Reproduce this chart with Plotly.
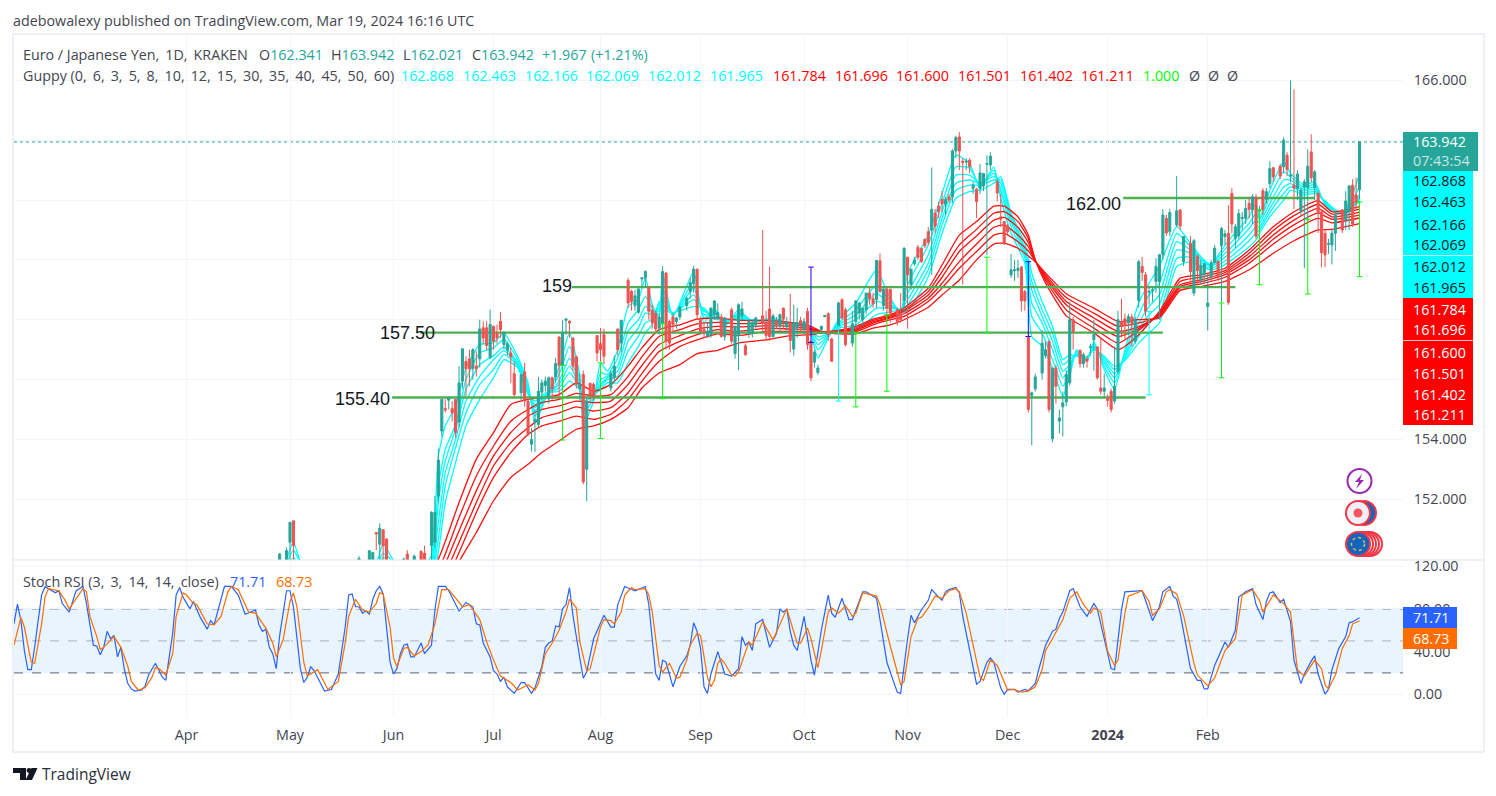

# %% EUR/JPY daily chart with Guppy and Stoch RSI
import plotly.graph_objects as go

W, H = 1496, 796

# %% price data, one entry per bar that shows in the pane
bars = [77,79,80,81,100,103,104,105,106,107,
        108,113,114,116,118,119,121,122,123,124,
        125,126,127,128,129,130,131,132,133,134,
        135,136,137,138,139,140,141,142,143,144,
        145,147,148,149,150,151,152,153,154,155,
        156,157,158,159,160,161,162,163,164,165,
        166,167,168,169,170,171,173,174,175,176,
        178,179,180,181,182,183,184,185,186,187,
        188,189,190,191,192,193,195,196,197,198,
        199,200,201,202,203,204,205,206,208,209,
        210,211,212,213,214,215,217,218,219,220,
        221,222,223,224,225,226,227,228,229,230,
        231,232,233,234,235,236,237,239,240,241,
        243,244,245,246,247,248,249,250,251,252,
        253,254,256,257,258,259,260,261,262,263,
        264,265,266,267,268,269,270,271,272,273,
        274,275,276,277,278,279,280,281,282,283,
        285,286,287,288,289,290,291,292,293,294,
        295,296,298,299,300,301,302,303,304,305,
        306,307,309,310,311,312,313,314,315,316,
        317,318,319,320,321,322,323,324,325,326,
        327,328,329,330,331,332,333,334,335,337,
        338,339,341,342,343,344,345,346,347,348,
        349,350,351,352,353,354,355,356,357,358,
        359,360,361,362,363,364,365,367,368,369,
        370,371,372,373,374,375,376,377,378,379,
        380,381,382,383,385,386,387,388,389,390]
opens = [149.6,149.7,150.56,151.28,149.8,149.8,149.9,150.89,150.5,150.98,
         150.67,149.8,150.17,149.7,150.25,150.2,150.45,150.56,152.11,154.28,
         155.03,155.31,155.03,155.34,154.58,155.95,156.61,156.69,156.36,156.45,
         156.69,157.73,157.73,156.73,157.78,157.54,157.95,157.17,156.98,156.89,
         156.2,155.56,156.26,155.28,153.84,154.56,154.5,155.58,155.8,155.36,
         156.06,156.09,157.42,156.47,157.98,157.95,157.39,156.76,155.7,156.17,
         153.0,155.87,155.84,157.47,157.2,157.5,155.72,156.06,157.69,157.23,
         159.31,158.95,158.47,158.25,159.37,159.39,159.09,158.31,158.22,157.72,
         157.87,159.56,157.94,158.09,157.94,158.09,158.47,158.94,159.2,159.69,
         157.98,157.67,157.47,157.5,158.17,158.11,158.09,157.44,158.33,156.87,
         157.47,158.13,157.13,157.53,157.56,157.83,158.13,157.89,158.36,157.44,
         157.91,157.8,158.39,157.76,157.89,157.02,157.72,157.97,157.67,158.28,
         157.28,156.58,156.24,157.67,158.1,158.2,157.36,157.78,158.67,158.33,
         157.22,157.94,158.22,158.0,158.33,158.89,158.7,158.67,159.97,158.47,
         159.02,159.02,158.33,158.22,158.64,160.09,159.17,159.87,160.42,160.39,
         160.69,160.94,161.0,161.56,161.8,162.02,161.87,162.11,162.11,163.64,
         164.11,163.3,163.27,163.33,162.39,162.36,162.39,162.47,163.2,163.17,
         162.61,161.44,161.28,161.13,159.5,159.64,159.64,159.76,158.94,157.44,
         155.47,155.69,156.22,156.8,157.28,154.02,156.39,154.61,155.09,155.25,
         155.89,158.0,156.98,156.53,156.69,157.07,157.33,157.09,155.72,155.61,
         155.36,155.61,155.28,156.28,157.94,158.03,157.89,158.09,157.28,158.64,
         159.78,159.5,158.92,158.97,159.28,159.28,160.17,161.39,160.94,161.17,
         161.67,159.94,160.55,158.89,160.11,159.33,159.53,158.44,159.44,159.91,
         159.94,160.47,160.78,160.89,162.22,160.72,160.8,161.38,161.39,161.89,
         161.67,162.09,161.63,162.31,162.02,162.55,163.08,163.13,163.11,163.5,
         162.8,162.5,162.39,161.64,162.44,162.42,163.61,162.42,162.22,161.61,
         160.89,160.52,160.5,160.89,161.67,161.33,161.61,162.5,162.17,162.34]
highs = [150.2,150.39,151.23,151.28,150.1,150.3,150.25,150.9,151.2,151.0,
         150.7,150.05,150.3,150.15,150.3,150.45,151.6,152.11,153.69,155.34,
         155.34,155.4,155.28,155.34,156.45,157.03,156.78,157.0,157.05,156.95,
         158.0,157.95,157.95,158.34,157.8,157.84,158.26,157.6,157.25,157.06,
         156.6,156.17,156.56,155.34,154.39,155.0,156.1,156.0,156.1,156.1,
         156.1,156.73,157.45,158.0,158.03,157.98,157.4,156.8,156.2,156.3,
         155.4,155.9,155.9,157.47,157.72,157.7,156.3,156.8,157.7,158.0,
         159.4,159.0,159.0,159.05,159.4,159.65,159.1,158.5,158.3,158.2,
         159.79,159.6,158.0,158.2,158.1,158.45,158.75,159.4,159.8,159.7,
         158.1,157.9,157.9,158.4,158.65,158.55,158.2,158.1,158.4,157.8,
         158.55,158.6,157.2,158.0,158.0,158.1,161.0,158.3,159.77,158.2,
         158.1,158.2,158.4,158.1,158.87,158.5,158.4,158.1,158.06,158.4,
         157.3,157.0,156.5,157.8,158.14,158.25,157.4,158.6,158.72,158.4,
         158.3,158.65,158.6,158.4,158.9,159.1,158.9,160.0,160.22,159.1,
         159.1,159.03,158.4,158.89,160.42,160.1,159.7,160.1,160.5,160.4,
         160.7,161.1,163.09,161.7,161.95,162.3,162.1,162.2,163.7,164.15,
         164.27,163.4,163.4,163.4,162.6,162.4,163.2,162.9,163.5,163.6,
         162.7,162.2,161.3,161.2,160.2,160.0,160.0,159.8,159.0,157.5,
         155.6,156.2,157.65,157.3,157.3,156.4,156.5,155.0,155.6,156.3,
         158.6,158.1,157.0,156.9,156.8,157.2,158.0,157.1,157.4,156.2,
         155.5,155.7,157.1,158.3,158.7,158.2,158.2,158.2,158.1,160.0,
         160.1,159.6,159.1,159.1,160.05,160.2,161.7,161.5,161.7,162.8,
         161.7,160.8,160.8,160.7,160.2,160.0,159.9,159.55,160.0,160.5,
         160.0,161.1,161.0,161.83,162.4,161.2,161.7,161.6,162.0,162.1,
         162.2,162.2,161.8,162.4,162.4,163.3,163.1,163.2,164.1,163.6,
         166.0,165.7,163.0,162.4,162.7,163.7,164.2,163.0,162.3,161.7,
         161.0,160.7,161.0,161.55,161.7,162.3,162.5,162.7,162.75,163.94]
lows = [149.4,149.5,149.9,149.9,149.6,149.6,149.7,150.3,150.0,149.9,
        149.7,149.6,149.5,149.5,149.5,149.7,149.9,150.4,151.9,154.1,
        154.9,155.0,154.6,154.06,154.4,155.7,155.45,155.78,156.0,156.1,
        156.4,157.2,157.0,156.7,157.0,157.2,157.4,157.0,156.8,155.89,
        155.42,155.3,155.1,154.1,153.6,153.58,154.4,155.3,155.6,155.2,
        155.33,155.9,155.33,155.3,157.5,157.4,156.3,155.7,155.3,152.5,
        151.93,155.3,155.3,156.6,156.6,156.5,155.6,155.9,156.8,156.9,
        158.4,158.3,158.3,158.2,159.1,159.1,158.0,157.7,157.6,157.5,
        157.6,157.0,157.0,157.6,157.7,158.0,158.3,158.7,158.9,158.0,
        157.6,157.4,157.4,157.4,158.0,158.0,157.4,157.3,157.2,156.7,
        156.31,158.0,156.8,157.4,157.4,157.7,157.6,157.3,157.3,157.4,
        157.7,157.6,157.7,157.6,156.9,156.8,157.4,157.6,157.5,157.0,
        155.94,156.4,156.15,157.6,158.1,157.3,156.6,157.6,158.0,157.1,
        157.1,157.7,158.0,157.8,158.2,158.5,158.4,158.4,158.9,158.3,
        158.1,157.9,157.8,157.9,158.2,157.7,159.0,159.8,160.0,159.9,
        160.4,160.5,159.5,160.9,161.4,161.6,161.5,161.9,161.9,163.4,
        163.0,159.17,163.0,162.9,162.2,161.4,162.2,162.3,160.17,163.0,
        161.95,161.1,160.5,160.8,159.4,159.3,159.4,158.28,158.3,154.9,
        153.8,155.6,156.0,156.7,154.9,153.9,155.2,154.2,154.1,155.1,
        155.8,157.0,156.4,156.4,156.4,156.8,156.3,156.0,155.5,155.4,
        155.1,154.9,155.2,156.2,157.4,157.3,157.5,157.1,157.2,158.4,
        159.3,158.1,158.5,158.6,158.9,158.0,160.0,160.8,160.8,161.1,
        161.0,159.8,159.3,158.8,159.2,159.2,159.2,157.64,159.3,159.9,
        159.3,158.6,160.5,158.5,160.9,160.4,160.7,161.0,161.2,161.4,
        161.2,160.7,161.3,161.5,161.9,162.4,162.6,162.7,162.9,162.8,
        162.6,161.7,162.0,161.5,159.72,161.3,162.6,162.0,160.9,159.75,
        159.75,160.2,159.85,160.3,160.9,161.0,161.0,161.1,161.7,162.02]
closes = [150.17,150.28,151.23,150.45,150.02,150.28,150.22,150.84,151.03,150.45,
          149.9,150.0,149.7,150.1,149.7,149.9,151.56,151.56,153.31,155.34,
          154.98,155.39,154.89,154.23,155.89,157.03,156.36,156.36,157.0,156.36,
          157.69,157.39,157.14,157.84,157.28,157.39,157.67,157.58,157.2,156.76,
          155.5,156.17,155.28,154.17,154.0,154.67,155.61,155.89,155.95,156.06,
          155.69,156.54,156.47,157.56,158.03,157.89,156.45,155.84,155.84,152.58,
          155.28,155.45,155.47,156.89,157.0,156.78,156.2,156.45,157.0,157.98,
          158.56,158.61,158.8,159.03,159.4,159.61,158.28,157.89,157.69,158.09,
          159.61,157.28,157.22,157.83,158.06,158.42,158.72,159.24,159.69,158.17,
          157.61,157.58,157.61,158.39,158.63,158.24,157.44,158.06,157.28,157.78,
          158.5,158.36,156.83,157.94,157.91,158.06,157.89,157.47,157.44,158.13,
          157.78,158.17,158.02,157.91,157.31,157.89,157.91,157.87,157.94,157.17,
          156.06,156.91,156.39,157.78,158.14,157.5,156.61,158.56,158.06,157.17,
          157.87,158.63,158.56,158.39,158.89,158.69,158.53,159.98,158.94,159.02,
          158.39,158.22,157.94,158.0,160.39,159.5,159.69,160.0,160.09,159.94,
          160.47,160.58,161.69,161.13,161.61,161.87,162.02,162.0,163.64,164.09,
          163.64,163.25,163.3,163.11,162.5,161.95,162.91,162.89,163.22,163.47,
          162.24,161.36,160.58,160.94,159.67,159.67,159.72,158.63,158.63,155.0,
          155.56,156.09,157.22,157.0,155.0,156.39,155.78,154.72,155.22,156.17,
          158.0,157.61,156.53,156.83,156.61,157.1,157.5,156.06,155.61,155.72,
          155.3,155.0,155.78,158.0,157.78,157.8,158.11,157.89,158.0,159.94,
          159.58,158.28,158.95,159.0,159.78,160.17,161.5,160.9,161.58,161.64,
          161.13,160.78,159.61,160.64,159.64,159.8,159.87,158.56,159.91,160.39,
          159.44,161.05,160.87,158.58,161.2,161.11,161.55,161.42,161.72,161.69,
          162.11,160.8,161.67,161.69,162.28,163.05,162.78,162.8,164.0,163.02,
          162.83,162.4,162.87,162.33,162.61,163.13,162.75,162.94,161.55,160.24,
          160.17,160.55,160.89,161.5,161.0,161.97,162.47,161.2,161.91,163.942]

# %% Guppy lines, sampled along the bars
cyan_bars = [78,81,84,104,107,111,118,121,123,125,128,131,135,139,142,146,
             149,151,154,158,161,164,165,168,170,172,175,178,181,183,185,187,188,191,197,200,
             203,206,210,214,220,226,230,233,236,239,244,250,253,257,259,265,269,273,277,280,
             284,286,289,293,295,298,301,304,306,308,311,313,316,319,322,326,329,332,337,341,
             344,347,350,353,358,360,361,364,368,370,374,377,380,383,386,390]
cyan_1 = [149.6,150.56,149.7,149.6,150.5,149.8,149.7,150.11,153.45,154.45,155.11,156.39,157.17,157.23,157.56,156.76,
          155.89,154.56,155.34,156.39,157.56,156.11,154.5,155.28,156.56,156.28,157.0,158.45,158.67,159.39,158.5,158.06,159.56,158.09,159.61,157.89,
          158.39,157.78,158.33,157.94,158.06,157.83,157.86,156.72,157.39,158.0,158.56,159.67,158.94,158.22,159.56,160.83,162.22,163.5,163.22,162.39,
          163.11,162.06,160.89,159.89,157.44,157.11,156.39,155.44,156.11,157.0,156.61,157.28,156.33,155.67,157.0,158.56,159.22,159.78,161.11,160.55,
          160.11,159.83,160.33,160.78,161.44,161.89,161.39,162.33,163.28,162.89,162.5,162.61,161.83,161.58,161.67,162.87]
cyan_2 = [149.5,150.3,149.7,149.5,150.2,149.8,149.5,149.9,152.45,153.67,154.5,156.0,156.89,157.06,157.34,156.67,
          155.78,154.78,155.36,156.17,157.11,155.95,154.89,155.34,156.23,156.17,156.72,157.89,158.34,158.78,158.39,158.17,159.06,158.13,159.28,158.06,
          158.28,157.87,158.22,157.97,158.02,157.86,157.82,157.0,157.44,157.89,158.33,159.17,158.78,158.28,159.17,160.5,161.89,163.11,163.06,162.5,
          163.0,162.28,161.11,160.06,158.11,157.56,156.67,155.78,156.22,156.94,156.64,157.2,156.44,155.89,156.89,158.17,158.83,159.22,160.89,160.44,
          160.05,159.83,160.22,160.61,161.22,161.55,161.33,162.11,162.94,162.78,162.42,162.53,161.87,161.59,161.61,162.46]
cyan_3 = [149.4,150.05,149.6,149.4,150.05,149.7,149.3,149.7,151.89,153.28,154.34,155.67,156.5,156.8,157.09,156.56,
          155.69,154.95,155.39,155.95,156.72,155.84,155.12,155.39,156.0,156.11,156.45,157.61,158.0,158.45,158.28,158.28,158.83,158.17,159.06,158.17,
          158.22,157.91,158.17,157.98,157.98,157.87,157.8,157.17,157.47,157.83,158.17,158.89,158.61,158.31,158.89,160.17,161.61,162.83,162.83,162.56,
          162.89,162.39,161.28,160.17,158.56,157.89,157.0,156.06,156.39,156.89,156.67,157.13,156.56,156.06,156.8,157.89,158.44,158.83,160.61,160.33,
          160.0,159.8,160.11,160.44,161.05,161.33,161.24,161.89,162.67,162.67,162.36,162.44,161.89,161.6,161.58,162.17]
cyan_4 = [149.3,149.9,149.5,149.3,149.95,149.6,149.2,149.5,151.23,152.89,154.0,155.28,156.11,156.67,156.97,156.5,
          155.61,155.06,155.45,155.84,156.45,155.78,155.28,155.45,155.84,156.06,156.28,157.28,157.73,158.23,158.17,158.39,158.67,158.2,158.83,158.28,
          158.13,157.94,158.11,157.98,157.94,157.89,157.78,157.33,157.5,157.78,158.0,158.61,158.5,158.33,158.67,159.89,161.39,162.56,162.67,162.56,
          162.78,162.56,161.39,160.28,159.0,158.11,157.28,156.28,156.5,156.87,156.69,157.09,156.64,156.2,156.76,157.67,158.17,158.5,160.33,160.22,
          159.91,159.78,160.0,160.28,160.83,161.11,161.11,161.72,162.44,162.55,162.31,162.36,161.91,161.61,161.58,162.07]
cyan_5 = [149.2,149.8,149.4,149.2,149.8,149.5,149.1,149.4,150.67,152.45,153.73,154.89,155.84,156.34,156.84,156.45,
          155.56,155.17,155.5,155.72,156.23,155.72,155.39,155.47,155.76,156.0,156.11,156.95,157.45,157.89,158.03,158.5,158.5,158.22,158.67,158.33,
          158.09,157.98,158.06,157.99,157.91,157.89,157.76,157.44,157.53,157.72,157.83,158.39,158.39,158.36,158.5,159.67,161.17,162.33,162.5,162.5,
          162.67,162.67,161.5,160.39,159.28,158.33,157.56,156.5,156.67,156.83,156.72,157.06,156.72,156.33,156.69,157.44,157.89,158.17,160.05,160.09,
          159.83,159.72,159.89,160.13,160.64,160.89,161.0,161.58,162.22,162.44,162.24,162.29,161.94,161.63,161.58,162.01]
cyan_6 = [149.1,149.7,149.3,149.1,149.7,149.4,149.0,149.3,150.23,151.89,153.23,154.45,155.34,156.06,156.67,156.39,
          155.5,155.28,155.56,155.61,155.95,155.67,155.5,155.5,155.67,155.89,155.89,156.56,157.11,157.56,157.84,158.61,158.33,158.24,158.44,158.39,
          158.02,158.0,158.0,158.0,157.87,157.89,157.72,157.56,157.56,157.67,157.67,158.17,158.24,158.33,158.28,159.44,160.89,162.06,162.28,162.33,
          162.56,162.78,161.56,160.56,159.56,158.61,157.78,156.67,156.83,156.78,156.76,157.0,156.78,156.44,156.64,157.22,157.56,157.89,159.78,159.94,
          159.78,159.67,159.78,160.0,160.44,160.67,160.89,161.44,162.0,162.33,162.17,162.22,161.98,161.67,161.58,161.97]

red_bars = [115,123,129,134,139,144,149,153,158,163,168,173,178,182,187,193,198,204,210,218,
            225,231,234,239,244,249,254,258,265,269,274,279,284,287,291,294,296,299,305,313,
            320,325,332,338,344,351,358,365,371,378,382,390]
red_1 = [148.6,150.0,151.89,153.34,154.23,155.17,155.34,155.39,155.5,155.89,155.61,155.84,156.45,157.06,157.67,157.83,158.02,158.06,157.98,157.98,
         157.91,157.78,157.61,157.64,157.78,158.02,158.17,158.39,159.06,159.83,160.83,161.28,161.8,161.8,161.44,160.83,160.0,159.22,158.13,157.56,
         157.0,157.39,158.28,159.39,159.5,159.72,160.33,161.11,161.61,161.98,161.61,161.78]
red_2 = [148.0,149.6,151.39,152.78,153.78,154.61,155.0,155.23,155.34,155.54,155.45,155.5,156.11,156.76,157.44,157.67,157.86,157.91,157.87,157.89,
         157.86,157.72,157.6,157.63,157.73,157.98,158.13,158.33,158.94,159.61,160.5,161.02,161.56,161.61,161.28,160.72,160.0,159.31,158.33,157.72,
         157.22,157.56,158.22,159.28,159.42,159.64,160.22,160.98,161.48,161.86,161.53,161.70]
red_3 = [147.6,149.3,150.95,152.28,153.45,154.23,154.78,155.0,155.12,155.28,155.23,155.28,155.84,156.47,157.17,157.47,157.69,157.78,157.76,157.8,
         157.78,157.69,157.59,157.61,157.69,157.93,158.09,158.28,158.83,159.42,160.28,160.8,161.33,161.42,161.09,160.58,159.98,159.38,158.5,157.89,
         157.44,157.64,158.19,159.17,159.33,159.58,160.11,160.83,161.33,161.72,161.44,161.60]
red_4 = [147.2,149.0,150.56,151.89,153.12,153.89,154.39,154.73,154.89,155.09,154.95,155.06,155.56,156.2,156.94,157.28,157.5,157.67,157.61,157.72,
         157.69,157.67,157.58,157.6,157.64,157.89,158.06,158.2,158.72,159.22,159.94,160.53,161.09,161.17,160.83,160.44,159.97,159.44,158.61,158.06,
         157.61,157.72,158.16,159.11,159.27,159.51,160.0,160.69,161.17,161.56,161.36,161.50]
red_5 = [146.9,148.7,150.22,151.56,152.73,153.56,154.17,154.45,154.61,154.78,154.67,154.84,155.34,155.95,156.61,157.11,157.33,157.53,157.47,157.61,
         157.61,157.61,157.58,157.58,157.6,157.83,158.0,158.11,158.61,159.06,159.72,160.28,160.83,160.89,160.61,160.3,159.96,159.5,158.74,158.22,
         157.78,157.87,158.11,159.06,159.2,159.42,159.89,160.53,161.0,161.39,161.24,161.40]
red_6 = [146.4,148.2,149.91,150.89,151.95,152.73,153.17,153.56,153.95,154.34,154.45,154.67,155.06,155.72,156.22,156.5,156.87,156.98,157.22,157.33,
         157.47,157.5,157.56,157.53,157.53,157.72,157.83,158.0,158.42,158.83,159.33,160.0,160.53,160.56,160.39,160.13,159.94,159.56,158.87,158.39,
         157.94,158.0,158.06,158.98,159.11,159.28,159.67,160.22,160.64,161.0,161.02,161.21]

# %% Stoch RSI
k_bars = [0,1,2,3,4,5,6,8,9,10,12,13,14,16,18,20,21,23,24,25,26,27,28,29,30,31,32,33,34,35,37,38,39,41,42,43,44,46,47,48,
          49,51,52,54,56,57,58,59,61,63,65,67,70,71,72,73,74,75,76,77,79,80,81,83,84,85,86,87,89,90,92,94,96,97,98,99,100,101,102,103,
          104,105,106,107,109,110,111,112,113,114,115,116,118,119,121,122,123,125,126,129,131,133,134,135,136,138,139,140,
          141,142,143,145,147,148,150,151,153,154,155,156,157,158,159,160,161,162,164,165,166,168,171,173,174,175,177,180,183,184,186,187,188,189,191,193,195,196,197,198,
          199,200,201,202,204,206,208,210,211,212,213,214,215,217,219,221,222,223,224,225,226,227,229,231,232,234,236,237,238,240,242,243,246,247,250,253,256,257,259,260,
          261,263,265,266,268,269,270,271,273,274,275,279,280,282,283,284,286,287,288,290,291,293,294,296,297,299,301,302,303,304,306,307,309,311,313,314,318,319,320,321,
          322,327,330,332,333,335,336,337,338,341,343,344,345,346,348,351,352,354,355,357,359,360,362,363,364,365,367,368,370,371,373,374,376,377,378,380,381,382,384,386,387,388,390]
k_vals = [66,84.5,69,41,23,23,44.5,93,100.8,99,95,97,85,77,97,101,85,46,45,37,44,59,52,55,35,44,23,10,5,3,4,7.7,18,29,23,16,13,57,93,100,
          91,80,87,72,61,69,65,77,101,101,93,75,79,65,59,61,44,38,24,55,97,97,82,24,11,16,26,22,9.5,3,4.5,19,63,93,94,82,82,76,78,75,
          89,97,101,94,30,19,24,38,46,47,35,35,48,38,46,79,101,101,97,78,86,82,66,65,48,35,22,19,
          12,16,7,0.8,11,11,0.8,6,26,44,48,50,64,63,80,84,100,74,34,15,21,52,74,63,63,84,101,97,101,84,19,13,32,30,7,26,36,46,67,59,
          43,7,0.8,19,40,19,17,24,54,46,49,41,66,70,44,57,80,77,80,59,46,41,73,32,18,60,93,76,72,90,70,70,96,96,90,30,2,0.8,52,74,
          67,79,88,98,91,88,96,98,100,95,73,9.5,12,30,34,30,6,0,4.5,4.5,2,4.5,3.3,10,23,46,59,61,71,77,97,99,82,73,85,80,24,23,51,79,
          96,97,69,82,96,101,92,89,76,24,13,13,5,5,27,49,44,60,91,96,99,84,70,87,95,96,86,89,68,32,10,19,31,36,19,0,4.5,23,43,54,67,68,71.71]
d_bars = [0,2,3,5,6,8,9,10,13,15,16,18,20,21,22,24,25,26,29,31,33,34,36,38,40,41,42,44,46,47,49,50,52,53,56,58,60,62,63,65,67,68,70,73,75,76,78,80,81,82,
          84,85,88,91,94,96,97,99,101,103,105,106,107,109,110,111,113,114,116,118,120,122,124,126,128,130,132,135,137,139,
          141,144,146,149,151,152,154,156,158,160,161,163,164,166,167,170,171,173,174,176,177,179,180,183,184,185,187,188,190,192,193,195,196,198,199,201,202,203,204,205,206,208,209,210,213,214,217,218,220,224,226,227,228,230,231,233,234,236,237,239,241,243,244,246,250,251,254,257,258,260,262,263,265,267,269,
          271,273,274,276,280,281,283,285,288,290,292,294,296,298,299,301,304,306,308,310,312,313,315,317,319,320,322,323,327,329,330,332,334,335,337,339,342,343,346,348,351,354,356,359,361,362,365,368,370,372,374,377,379,380,381,383,385,387,388,390]
d_vals = [46,72,63,30,29,66,91,99,97,87,80,90,99,96,73,54,42,44,54,44,26,12,4,6,16,25,24,18,38,73,95,93,85,84,66,65,73,96,101,98,85,77,76,62,48,35,51,87,95,82,
          30,17,23,4.5,12,48,73,89,79,77,85,95,94,63,34,26,43,44,36,40,46,66,98,98,90,82,84,70,49,32,
          17,11,4,9,4,10,38,48,60,77,89,81,49,22,24,63,70,69,66,77,93,100,98,99,93,77,27,21,29,15,16,32,46,57,55,16,7,13,29,33,29,18,17,21,49,46,68,62,51,80,59,48,48,62,52,25,41,77,81,76,83,73,76,95,92,84,45,9,12,54,71,72,81,92,90,
          97,99,96,76,16,13,32,27,4,4.5,2,3,7,23,41,52,70,90,96,84,76,81,77,40,27,32,76,92,97,87,74,80,96,98,94,74,29,18,8,15,41,52,93,98,88,77,93,85,77,23,17,32,24,9,5,18,43,55,66,68.73]

# %% axis text, levels and markers
month_bars = [50,80,110,139,170,199,229,259,288,317,346]
month_labels = ["Apr","May","Jun","Jul","Aug","Sep","Oct","Nov","Dec","<b>2024</b>","Feb"]
price_ticks = [152,154,156,158,160,162,164,166]
price_labels = ["152.000","154.000","","","","","","166.000"]
rsi_ticks = [0,40,80,120]
level_prices = [162.07,159.09,157.57,155.40]
level_start = [321.5,161.7,117.7,109.6]
level_end = [377,354,333,328]
level_names = ["162.00","159","157.50","155.40"]
level_name_bars = [313,157.4,114,101]
level_name_prices = [161.87,159.13,157.57,155.36]
marker_bars = [159,170,188,239,244,253,231,282,294,329,350,361,375,390]
marker_lows = [153.98,154.03,155.36,155.28,155.09,155.61,157.24,157.58,157.44,155.49,156.06,159.17,158.86,159.44]
marker_highs = [156.47,156.56,157.87,157.78,157.56,158.17,159.76,160.09,159.94,158.28,158.56,161.67,161.36,161.94]
marker_colors = ["#00ff00","#00ff00","#00ff00","#00ffff","#00ff00","#00ff00","#2200ff","#00ff00","#2200ff","#00ffff","#00ff00","#00ff00","#00ff00","#00ff00"]
cyan_tags = ["162.868","162.463","162.166","162.069","162.012","161.965"]
red_tags = ["161.784","161.696","161.600","161.501","161.402","161.211"]
last_price = 163.942
stoch_k = "71.71"
stoch_d = "68.73"

TEAL = "#26a69a"
RED = "#ef5350"
GRID = "#f3f5fa"
TEXT = "#434651"
FONT = "Open Sans"
SIZE = 14.3
THIN = "\u2009"


def px(x):
    return x / W


def py(y):
    return 1 - y / H


fig = go.Figure()

# %% guppy lines sit under the candles
for name, vals in zip("123456", [cyan_1, cyan_2, cyan_3, cyan_4, cyan_5, cyan_6]):
    fig.add_trace(go.Scatter(x=cyan_bars, y=vals, mode="lines", name="fast " + name,
                             line=dict(color="#00ffff", width=1.3, shape="spline", smoothing=0.5)))
for name, vals in zip("123456", [red_1, red_2, red_3, red_4, red_5, red_6]):
    fig.add_trace(go.Scatter(x=red_bars, y=vals, mode="lines", name="slow " + name,
                             line=dict(color="#ff1010", width=1.3, shape="spline", smoothing=0.5)))

for p, a, b in zip(level_prices, level_start, level_end):
    fig.add_trace(go.Scatter(x=[a, b], y=[p, p], mode="lines", line=dict(color="#4caf50", width=2.4)))

fig.add_trace(go.Candlestick(x=bars, open=opens, high=highs, low=lows, close=closes, yaxis="y3",
                             increasing=dict(line=dict(color=TEAL, width=1), fillcolor=TEAL),
                             decreasing=dict(line=dict(color=RED, width=1), fillcolor=RED),
                             whiskerwidth=0))

for b, lo, hi, c in zip(marker_bars, marker_lows, marker_highs, marker_colors):
    fig.add_trace(go.Scatter(x=[b, b], y=[lo, hi], mode="lines+markers", yaxis="y3",
                             line=dict(color=c, width=1),
                             marker=dict(symbol="line-ew", size=4, line=dict(color=c, width=1))))

# stoch rsi pane
fig.add_trace(go.Scatter(x=k_bars, y=k_vals, mode="lines", xaxis="x2", yaxis="y2",
                         line=dict(color="#2962ff", width=1.2)))
fig.add_trace(go.Scatter(x=d_bars, y=d_vals, mode="lines", xaxis="x2", yaxis="y2",
                         line=dict(color="#ff6d00", width=1.2)))

x_range = [0, 402.6]
price_range = [149.97, 167.55]
main_dom = [py(560), py(34)]
rsi_dom = [py(717), py(560)]
x_dom = [px(14), px(1403)]

fig.update_layout(
    width=W, height=H, margin=dict(l=0, r=0, t=0, b=0, autoexpand=False),
    paper_bgcolor="white", plot_bgcolor="white", showlegend=False, boxgap=0.4, boxgroupgap=0,
    font=dict(family=FONT, size=13, color=TEXT),
    xaxis=dict(domain=x_dom, range=x_range, tickvals=month_bars, showticklabels=False, gridcolor=GRID,
               zeroline=False, rangeslider=dict(visible=False), anchor="y"),
    yaxis=dict(domain=main_dom, range=price_range, side="right", anchor="x", tickvals=price_ticks,
               ticktext=price_labels, gridcolor=GRID, zeroline=False, ticks="outside", ticklen=7,
               tickcolor="rgba(0,0,0,0)", tickfont=dict(size=SIZE, color=TEXT)),
    yaxis3=dict(overlaying="y", range=price_range, side="right", anchor="x", visible=False),
    xaxis2=dict(domain=x_dom, range=x_range, tickvals=month_bars, ticktext=month_labels, gridcolor=GRID,
                zeroline=False, anchor="y2", ticks="outside", ticklen=5, tickcolor="rgba(0,0,0,0)",
                tickfont=dict(size=SIZE, color=TEXT)),
    yaxis2=dict(domain=rsi_dom, range=[-21.3, 125.8], side="right", anchor="x2", tickvals=rsi_ticks,
                tickformat=".2f", gridcolor=GRID, zeroline=False, ticks="outside", ticklen=7,
                tickcolor="rgba(0,0,0,0)", tickfont=dict(size=SIZE, color=TEXT)),
)

# %% overlays
shapes = []


def rect(x0, y0, x1, y1, fill, line=None, width=0):
    shapes.append(dict(type="rect", xref="paper", yref="paper", x0=px(x0), x1=px(x1), y0=py(y0), y1=py(y1),
                       fillcolor=fill, line=dict(color=line or fill, width=width), layer="above"))


def circle(cx, cy, r, fill, line, width=2):
    shapes.append(dict(type="circle", xref="paper", yref="paper", x0=px(cx - r), x1=px(cx + r),
                       y0=py(cy + r), y1=py(cy - r), fillcolor=fill, line=dict(color=line, width=width),
                       layer="above"))


def poly(points, fill):
    d = "M " + " L ".join(f"{px(a):.5f} {py(b):.5f}" for a, b in points) + " Z"
    shapes.append(dict(type="path", xref="paper", yref="paper", path=d, fillcolor=fill,
                       line=dict(width=0), layer="above"))


def label(x, y, text, size=SIZE, color=TEXT, anchor="left", family=FONT):
    fig.add_annotation(xref="paper", yref="paper", x=px(x), y=py(y), text=text, showarrow=False,
                       xanchor=anchor, yanchor="middle", align=anchor, borderpad=0, borderwidth=0,
                       font=dict(family=family, size=size, color=color))


# band and dashed levels of the lower pane
shapes.append(dict(type="rect", xref="x2 domain", yref="y2", x0=0, x1=1, y0=20, y1=80,
                   fillcolor="rgba(33,150,243,0.1)", line=dict(width=0), layer="below"))
for lvl, col in [(80, "#5d606b"), (50, "rgba(120,123,134,0.55)"), (20, "#5d606b")]:
    shapes.append(dict(type="line", xref="x2 domain", yref="y2", x0=0, x1=1, y0=lvl, y1=lvl,
                       line=dict(color=col, width=1, dash="dash"), layer="below"))
shapes.append(dict(type="line", xref="x domain", yref="y", x0=0, x1=1, y0=last_price, y1=last_price,
                   line=dict(color=TEAL, width=1, dash="dot"), layer="below"))

# outer frame and pane divider
shapes.append(dict(type="rect", xref="paper", yref="paper", x0=px(13), x1=px(1484), y0=py(752), y1=py(34),
                   line=dict(color="#eef0f6", width=2), layer="above"))
shapes.append(dict(type="line", xref="paper", yref="paper", x0=px(13), x1=px(1484), y0=py(560), y1=py(560),
                   line=dict(color="#e0e3eb", width=1), layer="above"))

# price tags on the right
rect(1403, 132, 1478, 171, TEAL)
rect(1403, 171, 1473, 298, "#00ffff")
rect(1403, 298, 1473, 425, "#ff0000")
rect(1403, 255, 1473, 255.8, "white")
rect(1403, 340, 1473, 340.8, "white")
rect(1403, 607, 1457, 628, "#2962ff")
rect(1403, 628, 1457, 649, "#ff6d00")
label(1439, 142, f"{last_price:.3f}", SIZE, "white", "center")
label(1441, 161, "07:43:54", SIZE, "#c9e6e3", "center")
for y, t in zip([181, 202, 224, 245, 266, 287], cyan_tags):
    label(1439, y, t, SIZE, "#131722", "center")
for y, t in zip([309, 330, 352, 373, 394, 415], red_tags):
    label(1439, y, t, SIZE, "white", "center")
label(1431, 617.5, stoch_k, SIZE, "white", "center")
label(1431, 638.5, stoch_d, SIZE, "white", "center")

# small icons by the last bar
circle(1359.5, 481, 12, "white", "#9c27b0")
poly([(1362, 474), (1355, 482), (1359, 482), (1356, 489), (1364, 480), (1360, 480)], "#9c27b0")
circle(1364, 513, 12, "#1565c0", "#f23645")
circle(1358, 513, 12, "#eef0f6", "#f23645")
circle(1358, 513, 4.5, "#f7525f", "#f7525f", 0)
for cx in [1370, 1367, 1364, 1361]:
    circle(cx, 544, 12, "white", "#f23645")
circle(1358, 544, 12, "#1565c0", "#f23645")
shapes.append(dict(type="circle", xref="paper", yref="paper", x0=px(1351.5), x1=px(1364.5), y0=py(550.5), y1=py(537.5),
                   line=dict(color="#d8c040", width=1.5, dash="dot"), layer="above"))

# logo
poly([(13, 768), (26, 768), (26, 780), (20, 780), (20, 773), (13, 773)], "#131722")
circle(29, 770.5, 2.4, "#131722", "#131722", 0)
poly([(31.5, 768), (37.5, 768), (32, 780), (25.5, 780)], "#131722")
label(42, 774, "TradingView", 15.5, "#2a2e39")

fig.update_layout(shapes=shapes)

# %% header text
label(13, 20, "adebowalexy published on TradingView.com, Mar 19, 2024 16:16 UTC")
label(23, 54, f"Euro / Japanese Yen,{THIN} 1D,{THIN} KRAKEN")
for x, a, b in [(259, "O", "162.341"), (331, "H", "163.942"), (403, "L", "162.021"), (472, "C", "163.942")]:
    label(x, 54, f'{a}<span style="color:{TEAL}">{b}</span>')
label(542, 54, "+1.967", SIZE, TEAL)
label(591, 54, "(+1.21%)", SIZE, TEAL)
label(23, 75, "Guppy (0, 6, 3, 5, 8, 10, 12, 15, 30, 35, 40, 45, 50, 60)".replace(", ", "," + THIN + " "))
for x, t in zip([401, 463, 525, 586, 648, 710], cyan_tags):
    label(x, 75, t, SIZE, "#00ffff")
for x, t in zip([773, 835, 896, 958, 1020, 1081], red_tags):
    label(x, 75, t, SIZE, "#ff0000")
label(1143, 75, "1.000", SIZE, "#00ff00")
for x in [1189, 1208, 1227]:
    label(x, 75, "Ø")
label(23, 581, "Stoch RSI (3, 3, 14, 14, close)".replace(", ", "," + THIN + " "))
label(230, 581, stoch_k, SIZE, "#2962ff")
label(276, 581, stoch_d, SIZE, "#ff6d00")

for t, b, p in zip(level_names, level_name_bars, level_name_prices):
    fig.add_annotation(x=b, y=p, text=t, showarrow=False, xref="x", yref="y",
                       font=dict(family="Liberation Sans", size=18, color="#131722"))

fig.write_html("out.html", config={"displayModeBar": False},
               post_script="document.body.style.margin='0';document.body.style.overflow='hidden';")
